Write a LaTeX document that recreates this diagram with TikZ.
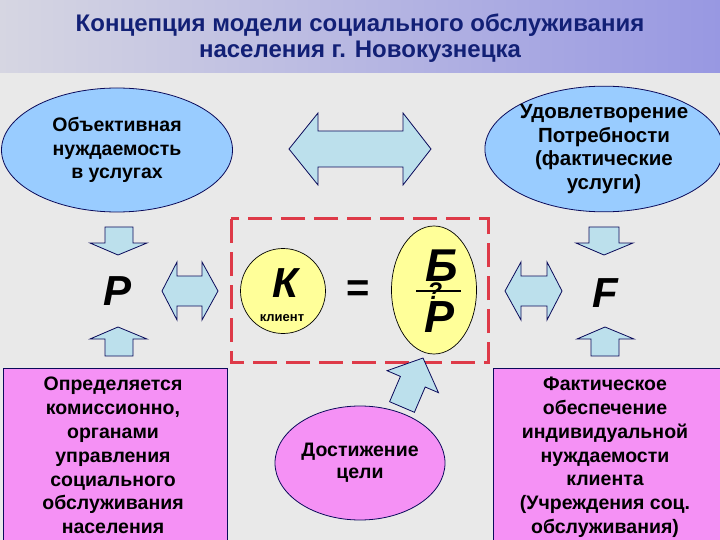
\documentclass[tikz,border=0pt]{standalone}
\usepackage{fontspec}
\setmainfont{Liberation Sans}
\usetikzlibrary{shapes.geometric}
\definecolor{bg}{RGB}{233,233,233}
\definecolor{navy}{RGB}{10,10,90}
\definecolor{ellblue}{RGB}{153,204,255}
\definecolor{arrblue}{RGB}{188,224,236}
\definecolor{yel}{RGB}{255,255,153}
\definecolor{pinkfill}{RGB}{245,145,245}
\definecolor{dred}{RGB}{222,58,72}
\definecolor{titleblue}{RGB}{18,32,118}
\definecolor{bandleft}{RGB}{214,214,226}
\definecolor{bandright}{RGB}{152,152,226}
\begin{document}
\begin{tikzpicture}[x=1pt,y=-1pt,
  blockarrow/.style={draw=navy, fill=arrblue, line width=0.8pt, line join=miter},
  bluell/.style={ellipse, draw=navy, fill=ellblue, line width=0.8pt, inner sep=0pt, align=center,
     font=\fontsize{19.5}{23.5}\selectfont\bfseries, text=black},
  yelshape/.style={ellipse, draw=black, fill=yel, line width=0.7pt, inner sep=0pt},
  pinkbox/.style={rectangle, draw=navy, fill=pinkfill, line width=0.8pt, inner sep=0pt, anchor=north west},
  boxtext/.style={inner sep=0pt, align=center, font=\fontsize{19.5}{23.8}\selectfont\bfseries, text=black},
  bigletter/.style={inner sep=0pt, anchor=base, font=\fontsize{42}{42}\selectfont\bfseries\itshape, text=black}]
\useasboundingbox (0,0) rectangle (720,540);
\clip (0,0) rectangle (720,540);
\fill[bg] (0,0) rectangle (720,540);
\shade[left color=bandleft, right color=bandright] (0,0) rectangle (720,73);
\node[inner sep=0pt, align=center, text=titleblue, font=\fontsize{24}{26.5}\selectfont\bfseries] (title) at (360,38)
  {Концепция модели социального обслуживания\\населения г. Новокузнецка};

% top ellipses
\node[bluell, minimum width=231, minimum height=124] (need) at (117,150) {Объективная\\нуждаемость\\в услугах};
\node[bluell, minimum width=232, minimum height=122, font=\fontsize{20.5}{23.5}\selectfont\bfseries] (satisf) at (604,149)
  {Удовлетворение\\Потребности\\(фактические\\услуги)};

% top double arrow
\draw[blockarrow] (289,149) -- (318,113) -- (318,131) -- (403,131) -- (403,113) -- (431,149)
  -- (403,185) -- (403,167) -- (318,167) -- (318,185) -- cycle;

% left side arrows
\draw[blockarrow] (105,227) -- (133,227) -- (133,243) -- (147,243) -- (118,255) -- (90,243) -- (105,243) -- cycle;
\draw[blockarrow] (105,356) -- (133,356) -- (133,339) -- (147,339) -- (118,327) -- (90,339) -- (105,339) -- cycle;
\draw[blockarrow] (162,291) -- (177,262) -- (177,276) -- (202,276) -- (202,262) -- (218,291)
  -- (202,320) -- (202,306) -- (177,306) -- (177,320) -- cycle;

% right side arrows
\draw[blockarrow] (589,227) -- (619,227) -- (619,243) -- (633,243) -- (604,255) -- (576,243) -- (589,243) -- cycle;
\draw[blockarrow] (591,356) -- (619,356) -- (619,339) -- (634,339) -- (605,327) -- (577,339) -- (591,339) -- cycle;
\draw[blockarrow] (505,291) -- (521,262) -- (521,276) -- (547,276) -- (547,262) -- (562,291)
  -- (547,320) -- (547,306) -- (521,306) -- (521,320) -- cycle;

% letters P and F
\node[bigletter] (P) at (118,305) {Р};
\node[bigletter] (F) at (605,307) {F};

% dashed frame
\draw[dred, line width=3pt, dash pattern=on 24pt off 9pt] (231,219) rectangle (488,362);

% client circle
\node[yelshape, minimum width=85, minimum height=85] (K) at (283,291) {};
\node[bigletter] (Kl) at (285,297) {К};
\node[inner sep=0pt, anchor=base, font=\fontsize{13}{13}\selectfont\bfseries] (klient) at (282,321) {клиент};

% equals
\node[inner sep=0pt, font=\fontsize{40}{40}\selectfont\bfseries] (eq) at (358,291) {=};

% fraction ellipse
\node[yelshape, minimum width=85, minimum height=128] (frac) at (434,290) {};
\node[inner sep=0pt, anchor=base, font=\fontsize{24}{24}\selectfont\bfseries\itshape] (q) at (435,299) {?};
\node[bigletter, font=\fontsize{46}{46}\selectfont\bfseries\itshape] (B) at (442,281) {Б};
\draw[black, line width=1.4pt] (416,291) -- (461,291);
\node[bigletter, font=\fontsize{45}{45}\selectfont\bfseries\itshape] (R) at (440,332) {Р};

% bottom boxes
\node[pinkbox, minimum width=224, minimum height=190] (lbox) at (3,368) {};
\node[boxtext, anchor=north] (lboxt) at (113,377)
  {Определяется\\комиссионно,\\органами\\управления\\социального\\обслуживания\\населения};
\node[pinkbox, minimum width=232, minimum height=190] (rbox) at (493,368) {};
\node[boxtext, anchor=north] (rboxt) at (605,377)
  {Фактическое\\обеспечение\\индивидуальной\\нуждаемости\\клиента\\(Учреждения соц.\\обслуживания)};

% goal ellipse
\node[ellipse, draw=navy, fill=pinkfill, line width=0.8pt, inner sep=0pt, align=center,
  minimum width=170, minimum height=114, font=\fontsize{19.5}{22}\selectfont\bfseries] (goal) at (360,463)
  {Достижение\\цели};

% diagonal arrow from goal to fraction
\draw[blockarrow] (389.6,401.7) -- (400.4,376.4) -- (387.1,370.7) -- (423,358) -- (438.5,392.7)
  -- (425.2,387.0) -- (414.4,412.3) -- cycle;
\end{tikzpicture}
\end{document}
